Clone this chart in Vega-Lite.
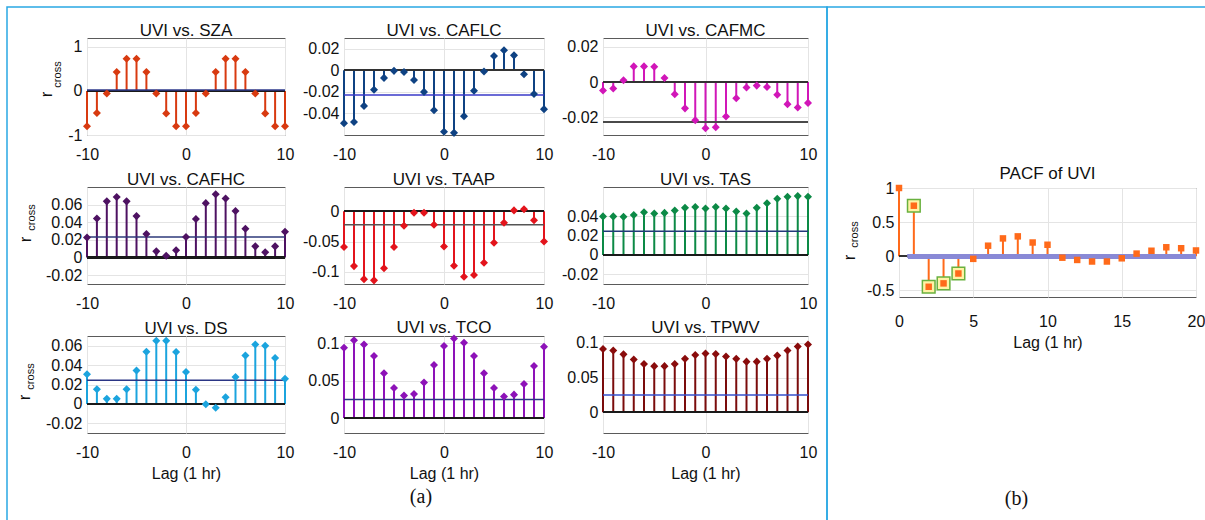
{
"$schema": "https://vega.github.io/schema/vega-lite/v6.json",
"background": "white",
"padding": {"left": 4, "top": 6, "right": 0, "bottom": 0},
"datasets": {
"ccf": [
{"pair":"SZA","lag":-10,"r":-0.80},{"pair":"SZA","lag":-9,"r":-0.50},{"pair":"SZA","lag":-8,"r":-0.06},{"pair":"SZA","lag":-7,"r":0.43},{"pair":"SZA","lag":-6,"r":0.73},{"pair":"SZA","lag":-5,"r":0.73},{"pair":"SZA","lag":-4,"r":0.43},{"pair":"SZA","lag":-3,"r":-0.06},{"pair":"SZA","lag":-2,"r":-0.51},{"pair":"SZA","lag":-1,"r":-0.80},{"pair":"SZA","lag":0,"r":-0.80},{"pair":"SZA","lag":1,"r":-0.50},{"pair":"SZA","lag":2,"r":-0.06},{"pair":"SZA","lag":3,"r":0.43},{"pair":"SZA","lag":4,"r":0.73},{"pair":"SZA","lag":5,"r":0.73},{"pair":"SZA","lag":6,"r":0.43},{"pair":"SZA","lag":7,"r":-0.06},{"pair":"SZA","lag":8,"r":-0.51},{"pair":"SZA","lag":9,"r":-0.80},{"pair":"SZA","lag":10,"r":-0.80},
{"pair":"CAFLC","lag":-10,"r":-0.049},{"pair":"CAFLC","lag":-9,"r":-0.048},{"pair":"CAFLC","lag":-8,"r":-0.033},{"pair":"CAFLC","lag":-7,"r":-0.018},{"pair":"CAFLC","lag":-6,"r":-0.007},{"pair":"CAFLC","lag":-5,"r":-0.0005},{"pair":"CAFLC","lag":-4,"r":-0.0015},{"pair":"CAFLC","lag":-3,"r":-0.009},{"pair":"CAFLC","lag":-2,"r":-0.020},{"pair":"CAFLC","lag":-1,"r":-0.037},{"pair":"CAFLC","lag":0,"r":-0.057},{"pair":"CAFLC","lag":1,"r":-0.058},{"pair":"CAFLC","lag":2,"r":-0.0425},{"pair":"CAFLC","lag":3,"r":-0.019},{"pair":"CAFLC","lag":4,"r":-0.001},{"pair":"CAFLC","lag":5,"r":0.0133},{"pair":"CAFLC","lag":6,"r":0.0186},{"pair":"CAFLC","lag":7,"r":0.0139},{"pair":"CAFLC","lag":8,"r":-0.0036},{"pair":"CAFLC","lag":9,"r":-0.022},{"pair":"CAFLC","lag":10,"r":-0.036},
{"pair":"CAFMC","lag":-10,"r":-0.0048},{"pair":"CAFMC","lag":-9,"r":-0.0036},{"pair":"CAFMC","lag":-8,"r":0.001},{"pair":"CAFMC","lag":-7,"r":0.0089},{"pair":"CAFMC","lag":-6,"r":0.0089},{"pair":"CAFMC","lag":-5,"r":0.0087},{"pair":"CAFMC","lag":-4,"r":0.0023},{"pair":"CAFMC","lag":-3,"r":-0.0069},{"pair":"CAFMC","lag":-2,"r":-0.0149},{"pair":"CAFMC","lag":-1,"r":-0.0216},{"pair":"CAFMC","lag":0,"r":-0.0262},{"pair":"CAFMC","lag":1,"r":-0.0256},{"pair":"CAFMC","lag":2,"r":-0.0195},{"pair":"CAFMC","lag":3,"r":-0.0092},{"pair":"CAFMC","lag":4,"r":-0.0031},{"pair":"CAFMC","lag":5,"r":-0.002},{"pair":"CAFMC","lag":6,"r":-0.0028},{"pair":"CAFMC","lag":7,"r":-0.0072},{"pair":"CAFMC","lag":8,"r":-0.0125},{"pair":"CAFMC","lag":9,"r":-0.0144},{"pair":"CAFMC","lag":10,"r":-0.0118},
{"pair":"CAFHC","lag":-10,"r":0.0227},{"pair":"CAFHC","lag":-9,"r":0.0443},{"pair":"CAFHC","lag":-8,"r":0.0637},{"pair":"CAFHC","lag":-7,"r":0.0687},{"pair":"CAFHC","lag":-6,"r":0.0637},{"pair":"CAFHC","lag":-5,"r":0.047},{"pair":"CAFHC","lag":-4,"r":0.0267},{"pair":"CAFHC","lag":-3,"r":0.007},{"pair":"CAFHC","lag":-2,"r":0.002},{"pair":"CAFHC","lag":-1,"r":0.0083},{"pair":"CAFHC","lag":0,"r":0.0233},{"pair":"CAFHC","lag":1,"r":0.0437},{"pair":"CAFHC","lag":2,"r":0.0617},{"pair":"CAFHC","lag":3,"r":0.0717},{"pair":"CAFHC","lag":4,"r":0.067},{"pair":"CAFHC","lag":5,"r":0.0527},{"pair":"CAFHC","lag":6,"r":0.0327},{"pair":"CAFHC","lag":7,"r":0.0127},{"pair":"CAFHC","lag":8,"r":0.006},{"pair":"CAFHC","lag":9,"r":0.0127},{"pair":"CAFHC","lag":10,"r":0.0293},
{"pair":"TAAP","lag":-10,"r":-0.059},{"pair":"TAAP","lag":-9,"r":-0.0905},{"pair":"TAAP","lag":-8,"r":-0.112},{"pair":"TAAP","lag":-7,"r":-0.114},{"pair":"TAAP","lag":-6,"r":-0.094},{"pair":"TAAP","lag":-5,"r":-0.059},{"pair":"TAAP","lag":-4,"r":-0.0238},{"pair":"TAAP","lag":-3,"r":-0.0024},{"pair":"TAAP","lag":-2,"r":-0.0024},{"pair":"TAAP","lag":-1,"r":-0.0224},{"pair":"TAAP","lag":0,"r":-0.058},{"pair":"TAAP","lag":1,"r":-0.09},{"pair":"TAAP","lag":2,"r":-0.108},{"pair":"TAAP","lag":3,"r":-0.105},{"pair":"TAAP","lag":4,"r":-0.085},{"pair":"TAAP","lag":5,"r":-0.052},{"pair":"TAAP","lag":6,"r":-0.019},{"pair":"TAAP","lag":7,"r":0.0014},{"pair":"TAAP","lag":8,"r":0.0033},{"pair":"TAAP","lag":9,"r":-0.015},{"pair":"TAAP","lag":10,"r":-0.05},
{"pair":"TAS","lag":-10,"r":0.0397},{"pair":"TAS","lag":-9,"r":0.0397},{"pair":"TAS","lag":-8,"r":0.0394},{"pair":"TAS","lag":-7,"r":0.0412},{"pair":"TAS","lag":-6,"r":0.0439},{"pair":"TAS","lag":-5,"r":0.0427},{"pair":"TAS","lag":-4,"r":0.0433},{"pair":"TAS","lag":-3,"r":0.0458},{"pair":"TAS","lag":-2,"r":0.0485},{"pair":"TAS","lag":-1,"r":0.0494},{"pair":"TAS","lag":0,"r":0.0479},{"pair":"TAS","lag":1,"r":0.0494},{"pair":"TAS","lag":2,"r":0.0479},{"pair":"TAS","lag":3,"r":0.0448},{"pair":"TAS","lag":4,"r":0.0427},{"pair":"TAS","lag":5,"r":0.0485},{"pair":"TAS","lag":6,"r":0.0533},{"pair":"TAS","lag":7,"r":0.0579},{"pair":"TAS","lag":8,"r":0.06},{"pair":"TAS","lag":9,"r":0.0606},{"pair":"TAS","lag":10,"r":0.06},
{"pair":"DS","lag":-10,"r":0.0305},{"pair":"DS","lag":-9,"r":0.0151},{"pair":"DS","lag":-8,"r":0.0052},{"pair":"DS","lag":-7,"r":0.0052},{"pair":"DS","lag":-6,"r":0.0151},{"pair":"DS","lag":-5,"r":0.0345},{"pair":"DS","lag":-4,"r":0.0538},{"pair":"DS","lag":-3,"r":0.0652},{"pair":"DS","lag":-2,"r":0.0652},{"pair":"DS","lag":-1,"r":0.0535},{"pair":"DS","lag":0,"r":0.0329},{"pair":"DS","lag":1,"r":0.0145},{"pair":"DS","lag":2,"r":-0.0003},{"pair":"DS","lag":3,"r":-0.004},{"pair":"DS","lag":4,"r":0.0068},{"pair":"DS","lag":5,"r":0.0277},{"pair":"DS","lag":6,"r":0.0498},{"pair":"DS","lag":7,"r":0.0612},{"pair":"DS","lag":8,"r":0.06},{"pair":"DS","lag":9,"r":0.0474},{"pair":"DS","lag":10,"r":0.0258},
{"pair":"TCO","lag":-10,"r":0.0942},{"pair":"TCO","lag":-9,"r":0.1044},{"pair":"TCO","lag":-8,"r":0.0987},{"pair":"TCO","lag":-7,"r":0.0832},{"pair":"TCO","lag":-6,"r":0.0602},{"pair":"TCO","lag":-5,"r":0.0403},{"pair":"TCO","lag":-4,"r":0.0301},{"pair":"TCO","lag":-3,"r":0.0323},{"pair":"TCO","lag":-2,"r":0.0478},{"pair":"TCO","lag":-1,"r":0.0712},{"pair":"TCO","lag":0,"r":0.0965},{"pair":"TCO","lag":1,"r":0.1066},{"pair":"TCO","lag":2,"r":0.1009},{"pair":"TCO","lag":3,"r":0.0832},{"pair":"TCO","lag":4,"r":0.0602},{"pair":"TCO","lag":5,"r":0.0403},{"pair":"TCO","lag":6,"r":0.0288},{"pair":"TCO","lag":7,"r":0.0314},{"pair":"TCO","lag":8,"r":0.0456},{"pair":"TCO","lag":9,"r":0.0699},{"pair":"TCO","lag":10,"r":0.0956},
{"pair":"TPWV","lag":-10,"r":0.0913},{"pair":"TPWV","lag":-9,"r":0.0891},{"pair":"TPWV","lag":-8,"r":0.0835},{"pair":"TPWV","lag":-7,"r":0.0761},{"pair":"TPWV","lag":-6,"r":0.0696},{"pair":"TPWV","lag":-5,"r":0.0665},{"pair":"TPWV","lag":-4,"r":0.0665},{"pair":"TPWV","lag":-3,"r":0.0696},{"pair":"TPWV","lag":-2,"r":0.077},{"pair":"TPWV","lag":-1,"r":0.0826},{"pair":"TPWV","lag":0,"r":0.0848},{"pair":"TPWV","lag":1,"r":0.0839},{"pair":"TPWV","lag":2,"r":0.0804},{"pair":"TPWV","lag":3,"r":0.077},{"pair":"TPWV","lag":4,"r":0.073},{"pair":"TPWV","lag":5,"r":0.073},{"pair":"TPWV","lag":6,"r":0.077},{"pair":"TPWV","lag":7,"r":0.0817},{"pair":"TPWV","lag":8,"r":0.0891},{"pair":"TPWV","lag":9,"r":0.0948},{"pair":"TPWV","lag":10,"r":0.0978}
],
"bounds": [
{"pair":"SZA","bound":0.022},{"pair":"CAFLC","bound":-0.0228},{"pair":"CAFMC","bound":-0.0226},{"pair":"CAFHC","bound":0.0233},{"pair":"TAAP","bound":-0.0224},{"pair":"TAS","bound":0.0245},{"pair":"DS","bound":0.0243},{"pair":"TCO","bound":0.0248},{"pair":"TPWV","bound":0.0248}
],
"pacf": [
{"lag":0,"r":1.0,"sig":false},{"lag":1,"r":0.74,"sig":true},{"lag":2,"r":-0.45,"sig":true},{"lag":3,"r":-0.40,"sig":true},{"lag":4,"r":-0.255,"sig":true},{"lag":5,"r":-0.04,"sig":false},{"lag":6,"r":0.153,"sig":false},{"lag":7,"r":0.26,"sig":false},{"lag":8,"r":0.29,"sig":false},{"lag":9,"r":0.2,"sig":false},{"lag":10,"r":0.167,"sig":false},{"lag":11,"r":-0.023,"sig":false},{"lag":12,"r":-0.056,"sig":false},{"lag":13,"r":-0.079,"sig":false},{"lag":14,"r":-0.079,"sig":false},{"lag":15,"r":-0.032,"sig":false},{"lag":16,"r":0.037,"sig":false},{"lag":17,"r":0.079,"sig":false},{"lag":18,"r":0.13,"sig":false},{"lag":19,"r":0.116,"sig":false},{"lag":20,"r":0.083,"sig":false}
]
},
"vconcat": [
{"hconcat": [
  {"width": 820, "height": 522, "data": {"values": [{}]}, "mark": {"type": "point", "opacity": 0}, "encoding": {}, "view": {"stroke": "#2aa8e4", "strokeWidth": 1.5}},
  {"width": 390, "height": 522, "data": {"values": [{}]}, "mark": {"type": "point", "opacity": 0}, "encoding": {}, "view": {"stroke": "#2aa8e4", "strokeWidth": 1.5}}
 ], "spacing": 0, "bounds": "flush"},
{"hconcat": [
  {"width": 1, "height": 1, "data": {"values": [{}]}, "mark": {"type": "point", "opacity": 0}, "encoding": {}, "view": {"stroke": null}},
  {"hconcat": [
    {"vconcat": [
      {"hconcat": [
        {"width": 198, "height": 97, "title": "UVI vs. SZA", "data": {"name": "ccf"}, "transform": [{"filter": "datum.pair === 'SZA'"}],
         "layer": [
          {"mark": {"type": "rule", "color": "#d83a10", "strokeWidth": 2}, "encoding": {"x": {"field": "lag", "type": "quantitative", "scale": {"domain": [-10, 10]}, "axis": {"values": [-10, 0, 10], "title": null}}, "y": {"field": "r", "type": "quantitative", "scale": {"domain": [-1, 1.03]}, "axis": {"values": [-1, 0, 1], "title": "r", "titleFontSize": 17, "titleX": -41, "titleY": 56, "titleAngle": 270, "titleBaseline": "middle", "titleAlign": "center"}}, "y2": {"datum": 0}}},
          {"mark": {"type": "rule", "color": "#1a1a1a", "strokeWidth": 1.5}, "encoding": {"x": {"datum": -10, "axis": null}, "x2": {"datum": 10}, "y": {"datum": 0, "axis": null}}},
          {"data": {"name": "bounds"}, "transform": [{"filter": "datum.pair === 'SZA'"}], "mark": {"type": "rule", "color": "#2e3a8c", "strokeWidth": 1.5}, "encoding": {"x": {"datum": -10, "axis": null}, "x2": {"datum": 10}, "y": {"field": "bound", "type": "quantitative", "axis": null}}},
          {"mark": {"type": "point", "shape": "diamond", "filled": true, "size": 65, "opacity": 1, "color": "#d83a10"}, "encoding": {"x": {"field": "lag", "type": "quantitative", "axis": null}, "y": {"field": "r", "type": "quantitative", "axis": {"orient": "left", "title": "cross", "labels": false, "grid": false, "ticks": false, "domain": false, "titleFontSize": 11, "titleX": -30, "titleY": 36, "titleAngle": 270, "titleBaseline": "middle", "titleAlign": "center"}}}}
         ],
         "resolve": {"axis": {"x": "independent", "y": "independent"}}},
        {"width": 200, "height": 97, "title": "UVI vs. CAFLC", "data": {"name": "ccf"}, "transform": [{"filter": "datum.pair === 'CAFLC'"}],
         "layer": [
          {"mark": {"type": "rule", "color": "#0f4283", "strokeWidth": 2}, "encoding": {"x": {"field": "lag", "type": "quantitative", "scale": {"domain": [-10, 10]}, "axis": {"values": [-10, 0, 10], "title": null}}, "y": {"field": "r", "type": "quantitative", "scale": {"domain": [-0.0575, 0.024]}, "axis": {"values": [-0.04, -0.02, 0, 0.02], "title": null}}, "y2": {"datum": 0}}},
          {"mark": {"type": "rule", "color": "#333333", "strokeWidth": 1.5}, "encoding": {"x": {"datum": -10, "axis": null}, "x2": {"datum": 10}, "y": {"datum": 0, "axis": null}}},
          {"data": {"name": "bounds"}, "transform": [{"filter": "datum.pair === 'CAFLC'"}], "mark": {"type": "rule", "color": "#3a3ac8", "strokeWidth": 1.5}, "encoding": {"x": {"datum": -10, "axis": null}, "x2": {"datum": 10}, "y": {"field": "bound", "type": "quantitative", "axis": null}}},
          {"mark": {"type": "point", "shape": "diamond", "filled": true, "size": 65, "opacity": 1, "color": "#0f4283"}, "encoding": {"x": {"field": "lag", "type": "quantitative", "axis": null}, "y": {"field": "r", "type": "quantitative", "axis": null}}}
         ],
         "resolve": {"axis": {"x": "independent", "y": "independent"}}},
        {"width": 205, "height": 97, "title": "UVI vs. CAFMC", "data": {"name": "ccf"}, "transform": [{"filter": "datum.pair === 'CAFMC'"}],
         "layer": [
          {"mark": {"type": "rule", "color": "#d116b8", "strokeWidth": 2}, "encoding": {"x": {"field": "lag", "type": "quantitative", "scale": {"domain": [-10, 10]}, "axis": {"values": [-10, 0, 10], "title": null}}, "y": {"field": "r", "type": "quantitative", "scale": {"domain": [-0.0262, 0.0236]}, "axis": {"values": [-0.02, 0, 0.02], "title": null}}, "y2": {"datum": 0}}},
          {"mark": {"type": "rule", "color": "#333333", "strokeWidth": 1.5}, "encoding": {"x": {"datum": -10, "axis": null}, "x2": {"datum": 10}, "y": {"datum": 0, "axis": null}}},
          {"data": {"name": "bounds"}, "transform": [{"filter": "datum.pair === 'CAFMC'"}], "mark": {"type": "rule", "color": "#4a4a4a", "strokeWidth": 2}, "encoding": {"x": {"datum": -10, "axis": null}, "x2": {"datum": 10}, "y": {"field": "bound", "type": "quantitative", "axis": null}}},
          {"mark": {"type": "point", "shape": "diamond", "filled": true, "size": 65, "opacity": 1, "color": "#d116b8"}, "encoding": {"x": {"field": "lag", "type": "quantitative", "axis": null}, "y": {"field": "r", "type": "quantitative", "axis": null}}}
         ],
         "resolve": {"axis": {"x": "independent", "y": "independent"}}}
       ], "spacing": 59, "bounds": "flush"},
      {"hconcat": [
        {"width": 198, "height": 97, "title": "UVI vs. CAFHC", "data": {"name": "ccf"}, "transform": [{"filter": "datum.pair === 'CAFHC'"}],
         "layer": [
          {"mark": {"type": "rule", "color": "#4e1262", "strokeWidth": 2}, "encoding": {"x": {"field": "lag", "type": "quantitative", "scale": {"domain": [-10, 10]}, "axis": {"values": [-10, 0, 10], "title": null}}, "y": {"field": "r", "type": "quantitative", "scale": {"domain": [-0.026, 0.0717]}, "axis": {"values": [-0.02, 0, 0.02, 0.04, 0.06], "title": "r", "titleFontSize": 17, "titleX": -62, "titleY": 52, "titleAngle": 270, "titleBaseline": "middle", "titleAlign": "center"}}, "y2": {"datum": 0}}},
          {"mark": {"type": "rule", "color": "#1a1a1a", "strokeWidth": 1.5}, "encoding": {"x": {"datum": -10, "axis": null}, "x2": {"datum": 10}, "y": {"datum": 0, "axis": null}}},
          {"data": {"name": "bounds"}, "transform": [{"filter": "datum.pair === 'CAFHC'"}], "mark": {"type": "rule", "color": "#2e3a7a", "strokeWidth": 1.5}, "encoding": {"x": {"datum": -10, "axis": null}, "x2": {"datum": 10}, "y": {"field": "bound", "type": "quantitative", "axis": null}}},
          {"mark": {"type": "point", "shape": "diamond", "filled": true, "size": 65, "opacity": 1, "color": "#4e1262"}, "encoding": {"x": {"field": "lag", "type": "quantitative", "axis": null}, "y": {"field": "r", "type": "quantitative", "axis": {"orient": "left", "title": "cross", "labels": false, "grid": false, "ticks": false, "domain": false, "titleFontSize": 11, "titleX": -56, "titleY": 30, "titleAngle": 270, "titleBaseline": "middle", "titleAlign": "center"}}}}
         ],
         "resolve": {"axis": {"x": "independent", "y": "independent"}}},
        {"width": 200, "height": 97, "title": "UVI vs. TAAP", "data": {"name": "ccf"}, "transform": [{"filter": "datum.pair === 'TAAP'"}],
         "layer": [
          {"mark": {"type": "rule", "color": "#e3141c", "strokeWidth": 2}, "encoding": {"x": {"field": "lag", "type": "quantitative", "scale": {"domain": [-10, 10]}, "axis": {"values": [-10, 0, 10], "title": null}}, "y": {"field": "r", "type": "quantitative", "scale": {"domain": [-0.114, 0.023]}, "axis": {"values": [-0.1, -0.05, 0], "title": null}}, "y2": {"datum": 0}}},
          {"mark": {"type": "rule", "color": "#1a1a1a", "strokeWidth": 1.5}, "encoding": {"x": {"datum": -10, "axis": null}, "x2": {"datum": 10}, "y": {"datum": 0, "axis": null}}},
          {"data": {"name": "bounds"}, "transform": [{"filter": "datum.pair === 'TAAP'"}], "mark": {"type": "rule", "color": "#555555", "strokeWidth": 1.5}, "encoding": {"x": {"datum": -10, "axis": null}, "x2": {"datum": 10}, "y": {"field": "bound", "type": "quantitative", "axis": null}}},
          {"mark": {"type": "point", "shape": "diamond", "filled": true, "size": 65, "opacity": 1, "color": "#e3141c"}, "encoding": {"x": {"field": "lag", "type": "quantitative", "axis": null}, "y": {"field": "r", "type": "quantitative", "axis": null}}}
         ],
         "resolve": {"axis": {"x": "independent", "y": "independent"}}},
        {"width": 205, "height": 97, "title": "UVI vs. TAS", "data": {"name": "ccf"}, "transform": [{"filter": "datum.pair === 'TAS'"}],
         "layer": [
          {"mark": {"type": "rule", "color": "#0c8a46", "strokeWidth": 2}, "encoding": {"x": {"field": "lag", "type": "quantitative", "scale": {"domain": [-10, 10]}, "axis": {"values": [-10, 0, 10], "title": null}}, "y": {"field": "r", "type": "quantitative", "scale": {"domain": [-0.0242, 0.0606]}, "axis": {"values": [-0.02, 0, 0.02, 0.04], "title": null}}, "y2": {"datum": 0}}},
          {"mark": {"type": "rule", "color": "#1a1a1a", "strokeWidth": 1.5}, "encoding": {"x": {"datum": -10, "axis": null}, "x2": {"datum": 10}, "y": {"datum": 0, "axis": null}}},
          {"data": {"name": "bounds"}, "transform": [{"filter": "datum.pair === 'TAS'"}], "mark": {"type": "rule", "color": "#233a7a", "strokeWidth": 1.5}, "encoding": {"x": {"datum": -10, "axis": null}, "x2": {"datum": 10}, "y": {"field": "bound", "type": "quantitative", "axis": null}}},
          {"mark": {"type": "point", "shape": "diamond", "filled": true, "size": 65, "opacity": 1, "color": "#0c8a46"}, "encoding": {"x": {"field": "lag", "type": "quantitative", "axis": null}, "y": {"field": "r", "type": "quantitative", "axis": null}}}
         ],
         "resolve": {"axis": {"x": "independent", "y": "independent"}}}
       ], "spacing": 59, "bounds": "flush"},
      {"hconcat": [
        {"width": 198, "height": 97, "title": "UVI vs. DS", "data": {"name": "ccf"}, "transform": [{"filter": "datum.pair === 'DS'"}],
         "layer": [
          {"mark": {"type": "rule", "color": "#1ba4de", "strokeWidth": 2}, "encoding": {"x": {"field": "lag", "type": "quantitative", "scale": {"domain": [-10, 10]}, "axis": {"values": [-10, 0, 10], "title": "Lag (1 hr)"}}, "y": {"field": "r", "type": "quantitative", "scale": {"domain": [-0.024, 0.0652]}, "axis": {"values": [-0.02, 0, 0.02, 0.04, 0.06], "title": "r", "titleFontSize": 17, "titleX": -63, "titleY": 61, "titleAngle": 270, "titleBaseline": "middle", "titleAlign": "center"}}, "y2": {"datum": 0}}},
          {"mark": {"type": "rule", "color": "#1a1a1a", "strokeWidth": 1.5}, "encoding": {"x": {"datum": -10, "axis": null}, "x2": {"datum": 10}, "y": {"datum": 0, "axis": null}}},
          {"data": {"name": "bounds"}, "transform": [{"filter": "datum.pair === 'DS'"}], "mark": {"type": "rule", "color": "#2a3585", "strokeWidth": 1.5}, "encoding": {"x": {"datum": -10, "axis": null}, "x2": {"datum": 10}, "y": {"field": "bound", "type": "quantitative", "axis": null}}},
          {"mark": {"type": "point", "shape": "diamond", "filled": true, "size": 65, "opacity": 1, "color": "#1ba4de"}, "encoding": {"x": {"field": "lag", "type": "quantitative", "axis": null}, "y": {"field": "r", "type": "quantitative", "axis": {"orient": "left", "title": "cross", "labels": false, "grid": false, "ticks": false, "domain": false, "titleFontSize": 11, "titleX": -57, "titleY": 40, "titleAngle": 270, "titleBaseline": "middle", "titleAlign": "center"}}}}
         ],
         "resolve": {"axis": {"x": "independent", "y": "independent"}}},
        {"width": 200, "height": 97, "title": "UVI vs. TCO", "data": {"name": "ccf"}, "transform": [{"filter": "datum.pair === 'TCO'"}],
         "layer": [
          {"mark": {"type": "rule", "color": "#8d12b8", "strokeWidth": 2}, "encoding": {"x": {"field": "lag", "type": "quantitative", "scale": {"domain": [-10, 10]}, "axis": {"values": [-10, 0, 10], "title": "Lag (1 hr)"}}, "y": {"field": "r", "type": "quantitative", "scale": {"domain": [-0.0195, 0.1066]}, "axis": {"values": [0, 0.05, 0.1], "title": null}}, "y2": {"datum": 0}}},
          {"mark": {"type": "rule", "color": "#1a1a1a", "strokeWidth": 1.5}, "encoding": {"x": {"datum": -10, "axis": null}, "x2": {"datum": 10}, "y": {"datum": 0, "axis": null}}},
          {"data": {"name": "bounds"}, "transform": [{"filter": "datum.pair === 'TCO'"}], "mark": {"type": "rule", "color": "#2a3585", "strokeWidth": 1.5}, "encoding": {"x": {"datum": -10, "axis": null}, "x2": {"datum": 10}, "y": {"field": "bound", "type": "quantitative", "axis": null}}},
          {"mark": {"type": "point", "shape": "diamond", "filled": true, "size": 65, "opacity": 1, "color": "#8d12b8"}, "encoding": {"x": {"field": "lag", "type": "quantitative", "axis": null}, "y": {"field": "r", "type": "quantitative", "axis": null}}}
         ],
         "resolve": {"axis": {"x": "independent", "y": "independent"}}},
        {"width": 205, "height": 97, "title": "UVI vs. TPWV", "data": {"name": "ccf"}, "transform": [{"filter": "datum.pair === 'TPWV'"}],
         "layer": [
          {"mark": {"type": "rule", "color": "#7b0c0c", "strokeWidth": 2}, "encoding": {"x": {"field": "lag", "type": "quantitative", "scale": {"domain": [-10, 10]}, "axis": {"values": [-10, 0, 10], "title": "Lag (1 hr)"}}, "y": {"field": "r", "type": "quantitative", "scale": {"domain": [-0.0217, 0.1035]}, "axis": {"values": [0, 0.05, 0.1], "title": null}}, "y2": {"datum": 0}}},
          {"mark": {"type": "rule", "color": "#1a1a1a", "strokeWidth": 1.5}, "encoding": {"x": {"datum": -10, "axis": null}, "x2": {"datum": 10}, "y": {"datum": 0, "axis": null}}},
          {"data": {"name": "bounds"}, "transform": [{"filter": "datum.pair === 'TPWV'"}], "mark": {"type": "rule", "color": "#3550cc", "strokeWidth": 1.5}, "encoding": {"x": {"datum": -10, "axis": null}, "x2": {"datum": 10}, "y": {"field": "bound", "type": "quantitative", "axis": null}}},
          {"mark": {"type": "point", "shape": "diamond", "filled": true, "size": 65, "opacity": 1, "color": "#8a0c0c"}, "encoding": {"x": {"field": "lag", "type": "quantitative", "axis": null}, "y": {"field": "r", "type": "quantitative", "axis": null}}}
         ],
         "resolve": {"axis": {"x": "independent", "y": "independent"}}}
       ], "spacing": 59, "bounds": "flush"}
     ], "spacing": 149, "bounds": "flush",
     "title": {"text": "(a)", "orient": "bottom", "frame": "bounds", "anchor": "middle", "font": "Liberation Serif", "fontSize": 20, "baseline": "top", "offset": 5, "dx": 5, "dy": 0}},
    {"vconcat": [
      {"width": 297, "height": 98, "data": {"values": [{}]}, "mark": {"type": "point", "opacity": 0}, "encoding": {}, "view": {"stroke": null}},
      {"width": 297, "height": 109, "title": {"text": "PACF of UVI", "offset": 0, "dy": 3}, "data": {"name": "pacf"},
       "layer": [
        {"mark": {"type": "rule", "color": "#ff6a1a", "strokeWidth": 2}, "encoding": {"x": {"field": "lag", "type": "quantitative", "scale": {"domain": [0, 20]}, "axis": {"values": [0, 5, 10, 15, 20], "title": "Lag (1 hr)", "labelPadding": 16}}, "y": {"field": "r", "type": "quantitative", "scale": {"domain": [-0.5, 1]}, "axis": {"values": [-0.5, 0, 0.5, 1], "title": "r", "titleFontSize": 17, "titleX": -50, "titleY": 69, "titleAngle": 270, "titleBaseline": "middle", "titleAlign": "center"}}, "y2": {"datum": 0}}},
        {"mark": {"type": "rule", "color": "#333333", "strokeWidth": 1.5}, "encoding": {"x": {"datum": 0, "axis": null}, "x2": {"datum": 20}, "y": {"datum": 0, "axis": null}}},
        {"mark": {"type": "rule", "color": "#8a8ad6", "strokeWidth": 4, "opacity": 0.9}, "encoding": {"x": {"datum": 0.6, "axis": null}, "x2": {"datum": 20}, "y": {"datum": 0, "axis": null}}},
        {"transform": [{"filter": "datum.sig"}], "mark": {"type": "point", "shape": "square", "filled": true, "fill": "#fff3a6", "stroke": "#69b13f", "strokeWidth": 1.5, "size": 160, "opacity": 1}, "encoding": {"x": {"field": "lag", "type": "quantitative", "axis": null}, "y": {"field": "r", "type": "quantitative", "axis": null}}},
        {"mark": {"type": "point", "shape": "square", "filled": true, "size": 42, "opacity": 1, "color": "#ff6a1a"}, "encoding": {"x": {"field": "lag", "type": "quantitative", "axis": null}, "y": {"field": "r", "type": "quantitative", "axis": {"orient": "left", "title": "cross", "labels": false, "grid": false, "ticks": false, "domain": false, "titleFontSize": 11, "titleX": -45, "titleY": 46, "titleAngle": 270, "titleBaseline": "middle", "titleAlign": "center"}}}}
       ],
       "resolve": {"axis": {"x": "independent", "y": "independent"}}}
     ], "spacing": 52, "bounds": "flush",
     "title": {"text": "(b)", "orient": "bottom", "frame": "bounds", "anchor": "middle", "font": "Liberation Serif", "fontSize": 20, "baseline": "top", "offset": 138, "dx": -6, "dy": 0}}
   ], "spacing": 812, "bounds": "flush"}
 ], "spacing": 79, "bounds": "flush"}
],
"spacing": 31,
"bounds": "flush",
"config": {
 "font": "Liberation Sans",
 "view": {"stroke": "#5a5a5a", "strokeWidth": 1},
 "axis": {"labelFont": "Liberation Sans", "labelFontSize": 16, "labelColor": "#111111", "titleFont": "Liberation Sans", "titleFontSize": 16, "titleFontWeight": "normal", "titleColor": "#111111", "ticks": false, "tickSize": 0, "domain": false, "grid": true, "gridColor": "#e4e4e4", "gridWidth": 1, "labelFlush": false, "labelOverlap": false, "labelExpr": "'' + datum.value"},
 "axisX": {"labelPadding": 11, "titlePadding": 5},
 "axisY": {"labelPadding": 5},
 "title": {"font": "Liberation Sans", "fontSize": 17, "fontWeight": "normal", "color": "#111111", "baseline": "alphabetic", "offset": 0, "dy": 6, "frame": "group", "anchor": "middle"}
}
}
